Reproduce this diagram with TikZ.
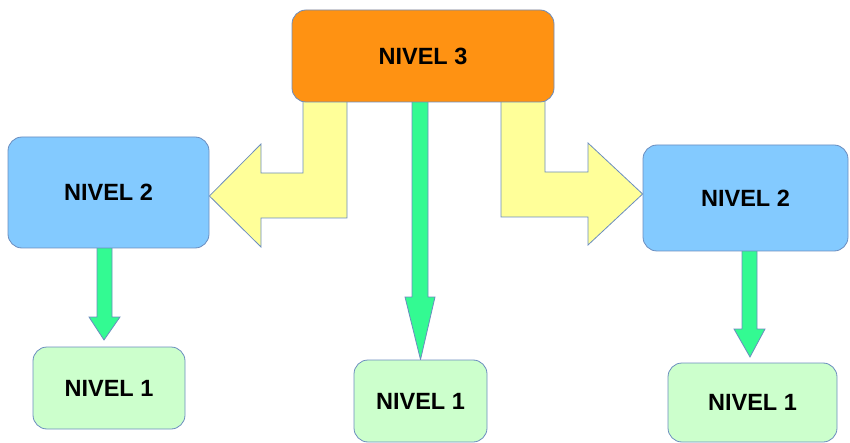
\documentclass[tikz,border=0pt]{standalone}
\usepackage{fontspec}
\setmainfont{Liberation Sans}
\usetikzlibrary{backgrounds}
\definecolor{edge}{HTML}{6B8DBF}
\definecolor{orangebox}{HTML}{FF9212}
\definecolor{bluebox}{HTML}{83CAFF}
\definecolor{greenbox}{HTML}{CCFFCC}
\definecolor{yellowarrow}{HTML}{FFFF99}
\definecolor{greenarrow}{HTML}{33FA92}
\tikzset{
  box/.style={draw=edge, line width=0.8pt, rounded corners=14pt, inner sep=0pt,
    align=center, font=\fontsize{23.5}{28}\selectfont\bfseries},
  bigarrow/.style={draw=edge, line width=0.8pt, fill=yellowarrow, line join=miter},
  thinarrow/.style={draw=edge, line width=0.8pt, fill=greenarrow, line join=miter},
}
\begin{document}
\begin{tikzpicture}[x=1pt,y=-1pt]
\useasboundingbox (0,0) rectangle (850,443);
\node[box, fill=orangebox, minimum width=262pt, minimum height=92pt] (n3) at (423,56) {NIVEL 3};
\node[box, fill=bluebox, minimum width=201pt, minimum height=111pt] (n2l) at (108.5,192.5) {NIVEL 2};
\node[box, fill=bluebox, minimum width=205pt, minimum height=106pt] (n2r) at (745.5,198) {NIVEL 2};
\node[box, fill=greenbox, minimum width=152pt, minimum height=82pt] (n1l) at (109,388) {NIVEL 1};
\node[box, fill=greenbox, minimum width=133pt, minimum height=82pt] (n1c) at (420.5,401) {NIVEL 1};
\node[box, fill=greenbox, minimum width=169pt, minimum height=79pt] (n1r) at (752.5,402.5) {NIVEL 1};
\begin{scope}[on background layer]
  % yellow block arrow to the left
  \draw[bigarrow] (347,100) -- (347,218) -- (261,218) -- (261,247) -- (n2l.east |- 0,196)
    -- (261,144) -- (261,173) -- (303,173) -- (303,100) -- cycle;
  % yellow block arrow to the right
  \draw[bigarrow] (501,100) -- (501,217) -- (588,217) -- (588,245) -- (n2r.west |- 0,194)
    -- (588,143) -- (588,172) -- (545,172) -- (545,100) -- cycle;
  % green arrow in the middle
  \draw[thinarrow] (412,100) -- (412,297) -- (405,297) -- (n1c.north) -- (435,297)
    -- (428,297) -- (428,100) -- cycle;
  % green arrow on the left
  \draw[thinarrow] (97,246) -- (97,317) -- (89,317) -- (104,340) -- (120,317)
    -- (112,317) -- (112,246) -- cycle;
  % green arrow on the right
  \draw[thinarrow] (742,249) -- (742,329) -- (734,329) -- (750,357) -- (765,329)
    -- (757,329) -- (757,249) -- cycle;
\end{scope}
\end{tikzpicture}
\end{document}
